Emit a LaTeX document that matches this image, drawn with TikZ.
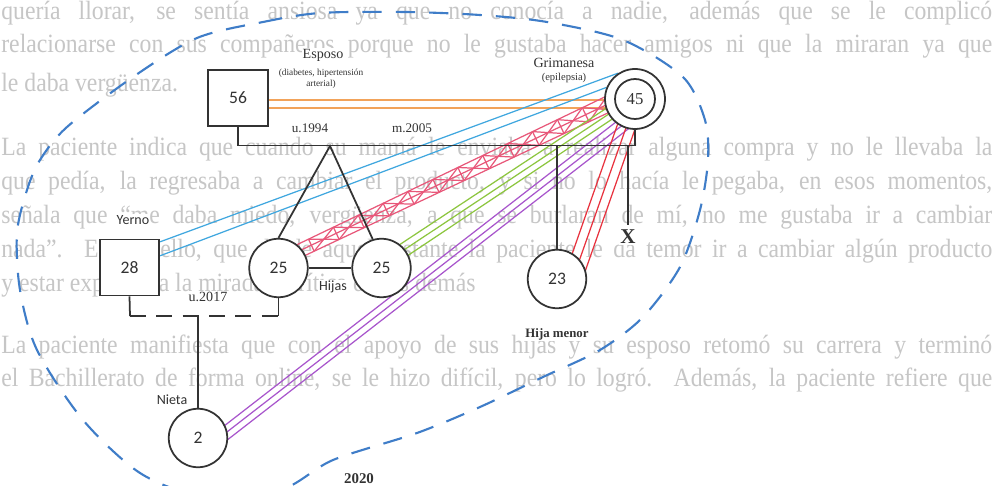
\documentclass[tikz,border=0pt]{standalone}
\usepackage{fontspec}
\setmainfont{Liberation Serif}
\newfontfamily\sansf{Carlito}
\newfontfamily\bgfont[FakeStretch=0.9]{Liberation Serif}
\usetikzlibrary{calc}
\pgfdeclarelayer{txt}
\pgfdeclarelayer{lines}
\pgfsetlayers{txt,lines,main}
\definecolor{bgtext}{HTML}{C6C6C6}
\definecolor{ink}{HTML}{333333}
\definecolor{hbound}{HTML}{3F7DC8}
\definecolor{corange}{HTML}{F2A35A}
\definecolor{cblue}{HTML}{3FA7DF}
\definecolor{cpink}{HTML}{E8587A}
\definecolor{cgreen}{HTML}{8DC63F}
\definecolor{cpurple}{HTML}{A855CC}
\definecolor{cred}{HTML}{E8323E}
\tikzset{
  male/.style={draw=ink, fill=white, line width=1pt, minimum width=1.19cm, minimum height=1.12cm, inner sep=0pt, text=ink, font=\sansf\fontsize{10}{12}\selectfont},
  female/.style={circle, draw=ink, fill=white, line width=1pt, minimum size=1.17cm, inner sep=0pt, text=ink, font=\sansf\fontsize{10}{12}\selectfont},
  kin/.style={draw=ink, line width=1pt},
  rel/.style={line width=0.7pt},
  lbl/.style={inner sep=0.6pt, fill=white, text=ink, font=\fontsize{8}{9}\selectfont},
  slbl/.style={inner sep=0.6pt, fill=white, text=ink, font=\sansf\fontsize{8}{9}\selectfont},
  bgline/.style={anchor=base west, inner sep=0pt, text=bgtext, font=\bgfont\fontsize{15}{18}\selectfont},
  household/.style={draw=hbound, line width=1.2pt, dash pattern=on 11pt off 8pt},
}
\newcommand\relpair[5]{\draw[rel,#1] ($(#2)!#4!90:(#3)$) -- ($(#3)!#5!-90:(#2)$);}
\begin{document}
\begin{tikzpicture}[x=0.02cm,y=-0.02cm]
\useasboundingbox (0,0) rectangle (995,486);
\clip (0,0) rectangle (995,486);

% ---------- background text ----------
\begin{pgfonlayer}{txt}
\fill[white] (0,0) rectangle (995,486);
\node[bgline] (t1) at (1,20) {\makebox[564pt][s]{quería llorar, se sentía ansiosa ya que no conocía a nadie, además que se le complicó}};
\node[bgline] (t2) at (1,53) {\makebox[564pt][s]{relacionarse con sus compañeros porque no le gustaba hacer amigos ni que la miraran ya que}};
\node[bgline] (t3) at (1,92) {le daba vergüenza.};
\node[bgline] (t4) at (1,156) {\makebox[564pt][s]{La paciente indica que cuando su mamá le enviaba a realizar alguna compra y no le llevaba la}};
\node[bgline] (t5) at (1,190) {\makebox[564pt][s]{que pedía, la regresaba a cambiar el producto, y si no lo hacía le pegaba, en esos momentos,}};
\node[bgline] (t6) at (1,224) {\makebox[564pt][s]{señala que “me daba miedo, vergüenza, a que se burlaran de mí, no me gustaba ir a cambiar}};
\node[bgline] (t7) at (1,258) {\makebox[564pt][s]{nada”. Es por ello, que desde aquel instante la paciente le da temor ir a cambiar algún producto}};
\node[bgline] (t8) at (1,292) {y estar expuesta a la mirada y crítica de los demás};
\node[bgline] (t9) at (1,354) {\makebox[564pt][s]{La paciente manifiesta que con el apoyo de sus hijas y su esposo retomó su carrera y terminó}};
\node[bgline] (t10) at (1,387) {\makebox[564pt][s]{el Bachillerato de forma online, se le hizo difícil, pero lo logró. Además, la paciente refiere que}};
\end{pgfonlayer}

% ---------- persons ----------
\node[male] (esposo) at (238,98) {56};
\node[circle, draw=ink, fill=white, line width=1pt, minimum size=1.2cm, inner sep=0pt] (grim) at (635,99) {};
\node[circle, draw=ink, line width=1pt, minimum size=0.8cm, inner sep=0pt, text=ink, font=\fontsize{9.5}{11}\selectfont] (grimin) at (grim.center) {45};
\node[male] (yerno) at (129.5,267.5) {28};
\node[female] (ltwin) at (278.5,268) {25};
\node[female] (rtwin) at (381.5,268) {25};
\node[female] (hmenor) at (557,279) {23};
\node[female] (nieta) at (198,438) {2};

\coordinate (mL) at (238,145.5);
\coordinate (mR) at (635,145.5);
\coordinate (apex) at (330,146);
\coordinate (xtop) at (628,145.5);
\coordinate (u1) at (130,316);
\coordinate (u2) at (278.5,316);
\coordinate (nj) at (198,316);

\node[inner sep=0.6pt, fill=white, text=ink, font=\bfseries\fontsize{12}{14}\selectfont] (xmark) at (628,237) {X};

% ---------- relationship lines ----------
\begin{pgfonlayer}{lines}
% orange: esposo -- grimanesa
\draw[rel,corange] ([yshift=-1.1pt]esposo.center) -- ([yshift=-1.1pt]esposo.center -| grim.center);
\draw[rel,corange] ([yshift=-5.7pt]esposo.center) -- ([yshift=-5.7pt]esposo.center -| grim.center);
% blue: yerno -- grimanesa
\draw[rel,cblue] (yerno.40) -- (grim.123);
\draw[rel,cblue] (yerno.21) -- (grim.158);
% pink hostile band: left twin -- grimanesa
\coordinate (pA1) at ($(ltwin.center)!7.4pt!90:(grim.center)$);
\coordinate (pB1) at ($(grim.center)!8.5pt!-90:(ltwin.center)$);
\coordinate (pA2) at ($(ltwin.center)!3.7pt!90:(grim.center)$);
\coordinate (pB2) at ($(grim.center)!4pt!-90:(ltwin.center)$);
\coordinate (pA3) at ($(ltwin.center)!0pt!90:(grim.center)$);
\coordinate (pB3) at ($(grim.center)!-0.6pt!-90:(ltwin.center)$);
\draw[rel,cpink] (pA1) -- (pB1) (pA2) -- (pB2) (pA3) -- (pB3);
\foreach \t [evaluate=\t as \u using \t+0.07] in {0.10,0.17,...,0.87} {
  \draw[rel,cpink] ($(pA1)!\t!(pB1)$) -- ($(pA3)!\t!(pB3)$);
  \draw[rel,cpink] ($(pA1)!\t!(pB1)$) -- ($(pA3)!\u!(pB3)$);
  \draw[rel,cpink] ($(pA3)!\t!(pB3)$) -- ($(pA1)!\u!(pB1)$);
}
% green: right twin -- grimanesa
\relpair{cgreen}{rtwin.center}{grim.center}{5.4pt}{4.6pt}
\relpair{cgreen}{rtwin.center}{grim.center}{1.5pt}{1.1pt}
\relpair{cgreen}{rtwin.center}{grim.center}{-2.4pt}{-2.3pt}
% purple: nieta -- grimanesa
\relpair{cpurple}{nieta.center}{grim.center}{-3.7pt}{-3.7pt}
\relpair{cpurple}{nieta.center}{grim.center}{-7.4pt}{-7.4pt}
\relpair{cpurple}{nieta.center}{grim.center}{-11.1pt}{-11.1pt}
% red: hija menor -- grimanesa
\relpair{cred}{hmenor.center}{grim.center}{-3.4pt}{4.6pt}
\relpair{cred}{hmenor.center}{grim.center}{-8.5pt}{-0.6pt}
\relpair{cred}{hmenor.center}{grim.center}{-13.7pt}{-5.7pt}

% ---------- kinship lines ----------
\draw[kin] (esposo.south) -- (mL) -- (mR) -- (grim.south);
\draw[kin] (ltwin.north) -- (apex) -- (rtwin.107);
\draw[kin] (ltwin.east) -- (rtwin.west);
\draw[kin] (hmenor.north |- mR) -- (hmenor.north);
\draw[kin] (xtop) -- ([yshift=2pt]xmark.north);
\draw[kin] (yerno.south) -- (u1);
\draw[kin, dash pattern=on 9pt off 6pt] (u1) -- (u2);
\draw[kin] (u2) -- (ltwin.south);
\draw[kin] (nj) -- (nieta.north);
\end{pgfonlayer}

% ---------- labels ----------
\node[lbl] (lesposo) at (323,55) {Esposo};
\node[lbl, font=\fontsize{5.3}{6.3}\selectfont, align=center] (ldiag) at (321,79) {(diabetes, hipertensión\\arterial)};
\node[lbl] (lgrim) at (564,63) {Grimanesa};
\node[lbl, font=\fontsize{6}{7}\selectfont] (lepi) at (564,78) {(epilepsia)};
\node[lbl, font=\fontsize{7.5}{9}\selectfont] (lu94) at (310,128) {u.1994};
\node[lbl, font=\fontsize{7.5}{9}\selectfont] (lm05) at (412,128) {m.2005};
\node[slbl] (lyerno) at (133,220) {Yerno};
\node[lbl] (lu17) at (208,297) {u.2017};
\node[slbl] (lnieta) at (172,400) {Nieta};
\node[slbl] (lhijas) at (333,287) {Hijas};
\node[lbl, font=\bfseries\fontsize{7.3}{9}\selectfont] (lhm) at (557,334) {Hija menor};
\node[inner sep=0.6pt, fill=white, text=ink, font=\bfseries\fontsize{8.5}{10}\selectfont] (l2020) at (359,479) {2020};

% ---------- household boundary ----------
\draw[household] plot[smooth cycle] coordinates {
 (197,38) (263,22) (320,13) (405,12) (480,15) (547,22) (623,40) (683,77)
 (705,120) (708,160) (700,210) (680,267) (643,317) (600,350) (543,377)
 (480,407) (417,433) (333,460) (280,490) (200,495) (140,473) (83,420)
 (37,350) (20,290) (17,233) (27,190) (40,160) (67,127) (133,77)};
\end{tikzpicture}
\end{document}
